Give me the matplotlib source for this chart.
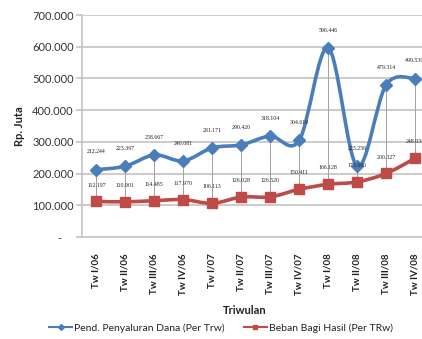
import matplotlib
matplotlib.use("Agg")
import matplotlib.pyplot as plt
from matplotlib.path import Path
from matplotlib.patches import PathPatch
from matplotlib.lines import Line2D
import numpy as np

plt.rcParams['font.family'] = ['Lato', 'DejaVu Sans']

categories = ["Tw I/06", "Tw II/06", "Tw III/06", "Tw IV/06",
              "Tw I/07", "Tw II/07", "Tw III/07", "Tw IV/07",
              "Tw I/08", "Tw II/08", "Tw III/08", "Tw IV/08"]
pend_penyaluran = [212244, 223397, 258667, 240081, 281171, 290420,
                   318104, 304619, 596446, 223256, 479314, 499530]
beban_bagi_hasil = [112197, 110901, 114485, 117970, 106113, 126028,
                    126520, 150411, 166128, 173660, 200327, 248034]
yticks = [0, 100000, 200000, 300000, 400000, 500000, 600000, 700000]
legend_labels = ["Pend. Penyaluran Dana (Per Trw)", "Beban Bagi Hasil (Per TRw)"]

BLUE = "#4a7ebb"
RED = "#be4b48"
GRID = "#c4c4c4"

def fmt(v):
    return f"{int(round(v)):,}".replace(",", ".")

def smooth_path(xs, ys):
    pts = np.column_stack([xs, ys]).astype(float)
    n = len(pts)
    verts = [pts[0]]
    codes = [Path.MOVETO]
    for i in range(n - 1):
        p0 = pts[i - 1] if i > 0 else pts[i]
        p1 = pts[i]
        p2 = pts[i + 1]
        p3 = pts[i + 2] if i + 2 < n else pts[i + 1]
        c1 = p1 + (p2 - p0) / 6.0
        c2 = p2 - (p3 - p1) / 6.0
        verts += [c1, c2, p2]
        codes += [Path.CURVE4] * 3
    return Path(verts, codes)

W, H = 422, 339
fig = plt.figure(figsize=(W / 100, H / 100), dpi=100)
left, right, top, bottom = 82, 429.5, 15, 237
ax = fig.add_axes([left / W, 1 - bottom / H, (right - left) / W, (bottom - top) / H])

x = np.arange(len(categories))
ax.set_xlim(-0.5, len(categories) - 0.5)
ax.set_ylim(0, 700000)

# high-low lines
ax.vlines(x, beban_bagi_hasil, pend_penyaluran, color="#a0a0a0", lw=0.7, zorder=2)

# smoothed lines
for vals, col in [(pend_penyaluran, BLUE), (beban_bagi_hasil, RED)]:
    patch = PathPatch(smooth_path(x, vals), facecolor="none", edgecolor=col,
                      lw=2.6, zorder=3, capstyle="round", joinstyle="round")
    ax.add_patch(patch)

ax.plot(x, pend_penyaluran, ls="none", marker="D", ms=6.5, color=BLUE,
        mec=BLUE, zorder=4)
ax.plot(x, beban_bagi_hasil, ls="none", marker="s", ms=7.5, color=RED,
        mec=RED, zorder=4)

for xi, v in zip(x, pend_penyaluran):
    ax.annotate(fmt(v), (xi, v), xytext=(0, 11), textcoords="offset points",
                ha="center", va="bottom", fontsize=4.2, family="Liberation Serif",
                color="#222222", zorder=5)
for xi, v in zip(x, beban_bagi_hasil):
    ax.annotate(fmt(v), (xi, v), xytext=(0, 10), textcoords="offset points",
                ha="center", va="bottom", fontsize=4.2, family="Liberation Serif",
                color="#222222", zorder=5)

ax.set_yticks(yticks)
ax.set_yticklabels([("-" + " " * 4) if t == 0 else fmt(t) for t in yticks],
                   fontsize=8, color="#333333")
ax.yaxis.grid(True, color=GRID, lw=1.2)
ax.set_axisbelow(True)
ax.tick_params(axis="y", length=4, color=GRID, width=1.2, pad=2)
ax.set_xticks(x)
ax.set_xticklabels(categories, rotation=90, fontsize=7, fontweight="bold",
                   color="#222222")
ax.tick_params(axis="x", length=0, pad=12)

for s in ["top", "right"]:
    ax.spines[s].set_visible(False)
ax.spines["left"].set_color(GRID)
ax.spines["left"].set_linewidth(1.2)
ax.spines["bottom"].set_color(GRID)
ax.spines["bottom"].set_linewidth(1.2)

ax.set_ylabel("Rp. Juta", fontsize=8, fontweight="bold", labelpad=5, color="#222222")
fig.text(245 / W, 1 - 311 / H, "Triwulan", ha="center", va="center",
         fontsize=8, fontweight="bold", color="#222222")

handles = [Line2D([], [], color=BLUE, lw=1.5, marker="D", ms=3),
           Line2D([], [], color=RED, lw=1.5, marker="s", ms=3.5)]
fig.legend(handles, legend_labels, loc="center", bbox_to_anchor=(221 / W, 1 - 328 / H),
           ncol=2, frameon=False, fontsize=7.5, handlelength=2.2, handletextpad=0.2,
           columnspacing=1.8, labelcolor="#222222")

fig.savefig("out.png", dpi=100)
